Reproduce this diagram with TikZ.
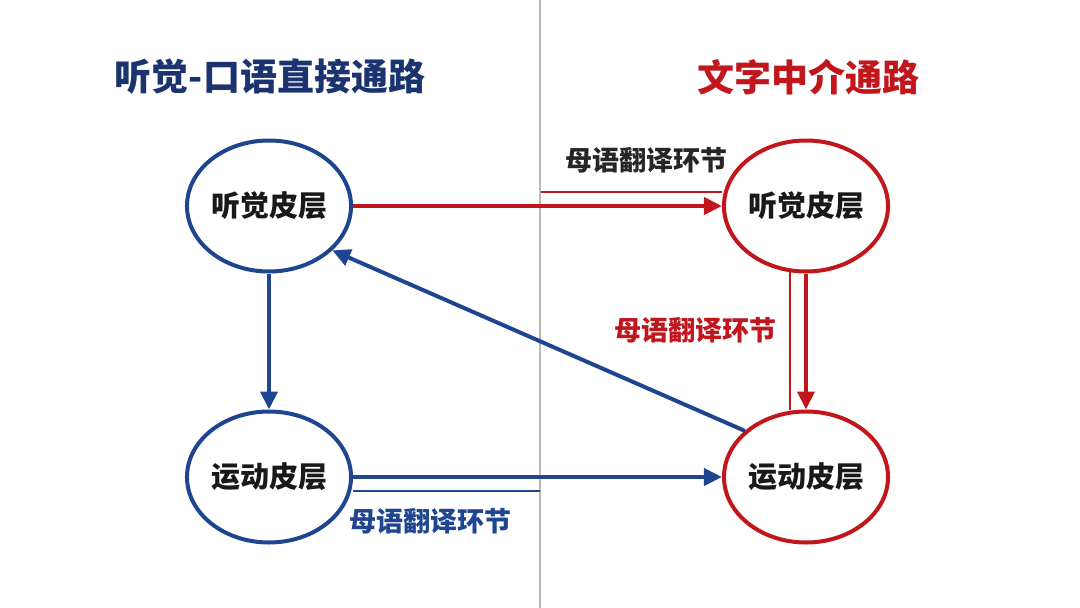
\documentclass[tikz,border=0pt]{standalone}
\usepackage{fontspec}
\usepackage{xcolor}
\usetikzlibrary{arrows.meta,shapes.geometric}
\newfontfamily\cjk{Noto Sans CJK SC}
\definecolor{pathblue}{HTML}{1F4591}
\definecolor{titleblue}{HTML}{1B3470}
\definecolor{pathred}{HTML}{C0161C}
\definecolor{divgray}{HTML}{B8B8B8}

\begin{document}
\begin{tikzpicture}[
  x=1pt, y=-1pt,
  font=\cjk\bfseries,
  cortex/.style={draw, ellipse, line width=4pt, minimum width=156pt,
                 minimum height=131pt, inner sep=0pt, fill=white,
                 font=\cjk\bfseries\fontsize{29}{32}\selectfont, text=black!90},
  title/.style={font=\cjk\bfseries\fontsize{37}{42}\selectfont},
  tag/.style={font=\cjk\bfseries\fontsize{27}{30}\selectfont},
  flow/.style={-{Triangle[length=18pt,width=17pt]}, line width=4pt},
  guide/.style={line width=1.4pt}
]
  \useasboundingbox[fill=white] (0,0) rectangle (1080,608);
  \coordinate (divtop) at (540,0);
  \coordinate (divbot) at (540,608);
  \draw[divgray, line width=1.3pt] (divtop) -- (divbot);

  \node[title, text=titleblue] (ltitle) at (270,77) {听觉-口语直接通路};
  \node[title, text=pathred] (rtitle) at (808,77) {文字中介通路};

  \node[cortex, draw=pathblue] (laud) at (269,206) {听觉皮层};
  \node[cortex, draw=pathblue] (lmot) at (269,477) {运动皮层};
  \node[cortex, draw=pathred] (raud) at (806,206) {听觉皮层};
  \node[cortex, draw=pathred] (rmot) at (806,477) {运动皮层};

  % direct path
  \draw[flow, pathblue] (laud) -- (lmot);
  \draw[flow, pathblue] (rmot.143) -- (laud.-35);
  \draw[flow, pathblue] (lmot) -- (rmot);

  % text-mediated path
  \draw[flow, pathred] (laud) -- (raud);
  \draw[flow, pathred] (raud) -- (rmot);

  % translation marks
  \coordinate (topmark) at (541,192);
  \draw[guide, pathred] (topmark) -- (topmark -| raud.west);
  \coordinate (sidemark) at (790,272);
  \draw[guide, pathred] (sidemark) -- (sidemark |- rmot.north);
  \coordinate (botmark) at (540,491);
  \draw[guide, pathblue] (botmark) -- (botmark -| lmot.east);

  \node[tag, text=black!85] (toptag) at (646,160) {母语翻译环节};
  \node[tag, text=pathred] (sidetag) at (695,330) {母语翻译环节};
  \node[tag, text=pathblue] (bottag) at (430,521) {母语翻译环节};
\end{tikzpicture}
\end{document}
